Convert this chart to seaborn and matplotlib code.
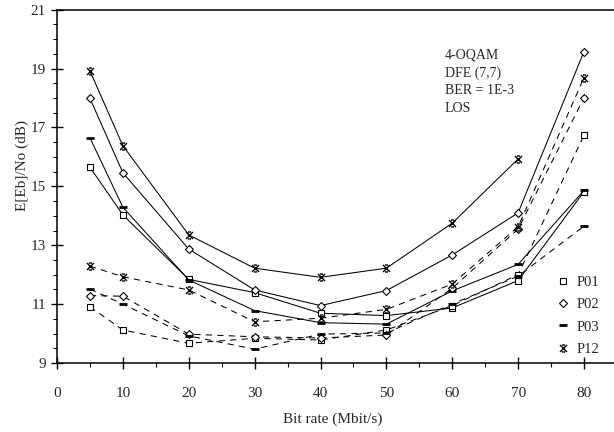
import numpy as np
import pandas as pd
import matplotlib
matplotlib.use("Agg")
import matplotlib.pyplot as plt
from matplotlib.path import Path
from matplotlib.lines import Line2D
from matplotlib.ticker import MultipleLocator
import seaborn as sns

# dados
bit_rate = [5, 10, 20, 30, 40, 50, 60, 70, 80]

p01_solid = [15.65, 14.03, 11.84, 11.39, 10.69, 10.61, 10.87, 11.80, 14.82]
p02_solid = [17.99, 15.46, 12.87, 11.48, 10.95, 11.46, 12.67, 14.10, 19.58]
p03_solid = [16.65, 14.29, 11.82, 10.78, 10.37, 10.32, 11.45, 12.35, 14.86]
p12_solid = [18.92, 16.38, 13.35, 12.22, 11.91, 12.22, 13.75, 15.93, np.nan]

p01_dash = [10.91, 10.12, 9.67, 9.84, 9.78, 10.12, 10.95, 12.00, 16.74]
p02_dash = [11.29, 11.27, 9.98, 9.89, 9.85, 9.95, 11.54, 13.55, 18.01]
p03_dash = [11.51, 11.00, 9.92, 9.47, 9.98, 10.02, 11.00, 11.95, 13.65]
p12_dash = [12.29, 11.93, 11.48, 10.40, 10.52, 10.82, 11.68, 13.63, 18.69]

labels = ["P01", "P02", "P03", "P12"]
yticks = [9, 11, 13, 15, 17, 19, 21]
xticks = [0, 10, 20, 30, 40, 50, 60, 70, 80]
info_text = "4-OQAM\nDFE (7,7)\nBER = 1E-3\nLOS"

sns.set_style("ticks")
plt.rcParams["font.family"] = ["Liberation Serif", "DejaVu Serif"]

# marcador do P12: X com barrinhas
x_bar = Path([(-1, 1), (1, -1), (1, 1), (-1, -1), (-0.45, 1), (0.45, 1), (-0.45, -1), (0.45, -1)],
             [Path.MOVETO, Path.LINETO, Path.MOVETO, Path.LINETO,
              Path.MOVETO, Path.LINETO, Path.MOVETO, Path.LINETO])

styles = {
    "P01": dict(marker="s", ms=5, mew=0.8, markerfacecolor="white"),
    "P02": dict(marker="D", ms=4, mew=0.8, markerfacecolor="white"),
    "P03": dict(marker="_", ms=6, mew=2.0, markerfacecolor="white"),
    "P12": dict(marker=x_bar, ms=5, mew=1.0, markerfacecolor="none"),
}

fig = plt.figure(figsize=(6.14, 4.32), dpi=100)
ax = fig.add_axes([57 / 614, 69 / 432, 1 - 57 / 614, (363 - 9.7) / 432])

dash = (0, (6, 5))
series = [
    ("P01", p01_solid, "-"), ("P02", p02_solid, "-"), ("P03", p03_solid, "-"), ("P12", p12_solid, "-"),
    ("P01", p01_dash, dash), ("P02", p02_dash, dash), ("P03", p03_dash, dash), ("P12", p12_dash, dash),
]

for name, vals, ls in series:
    df = pd.DataFrame({"rate": bit_rate, "ebno": vals}).dropna()
    sns.lineplot(data=df, x="rate", y="ebno", ax=ax, color="black", linewidth=0.75,
                 linestyle=ls, markeredgecolor="black",
                 estimator=None, sort=False, **styles[name])

ax.set_xlim(0, (614 - 57) / 6.5875)
ax.set_ylim(9, 21)
ax.set_xticks(xticks)
ax.set_yticks(yticks)
ax.xaxis.set_minor_locator(MultipleLocator(5))
ax.yaxis.set_minor_locator(MultipleLocator(0.5))
ax.tick_params(which="major", direction="inout", length=8, width=1, labelsize=11, color="black")
ax.tick_params(which="minor", direction="out", length=3, width=0.8, color="black")
ax.tick_params(axis="x", which="major", pad=13)
ax.tick_params(axis="y", which="major", pad=4)

ax.spines["right"].set_visible(False)
for s in ["left", "bottom", "top"]:
    ax.spines[s].set_linewidth(1.1)
    ax.spines[s].set_color("black")

ax.set_xlabel("Bit rate (Mbit/s)", fontsize=11)
ax.set_ylabel("E[Eb]/No (dB)", fontsize=11)
ax.xaxis.set_label_coords(0.4955, -0.14)
ax.yaxis.set_label_coords(-0.05, 0.56)

ax.text(58.9, 19.68, info_text, fontsize=10, va="top", ha="left", linespacing=1.45)

handles = [Line2D([], [], color="black", linestyle="none", markeredgecolor="black", **styles[n])
           for n in labels]
ax.legend(handles, labels, loc="upper left", bbox_to_anchor=(550 / 614, 1 - 270 / 432),
          bbox_transform=fig.transFigure, frameon=False, borderaxespad=0, fontsize=10.5,
          handlelength=1.0, handletextpad=0.45, labelspacing=0.62)

fig.savefig("out.png", dpi=100)
